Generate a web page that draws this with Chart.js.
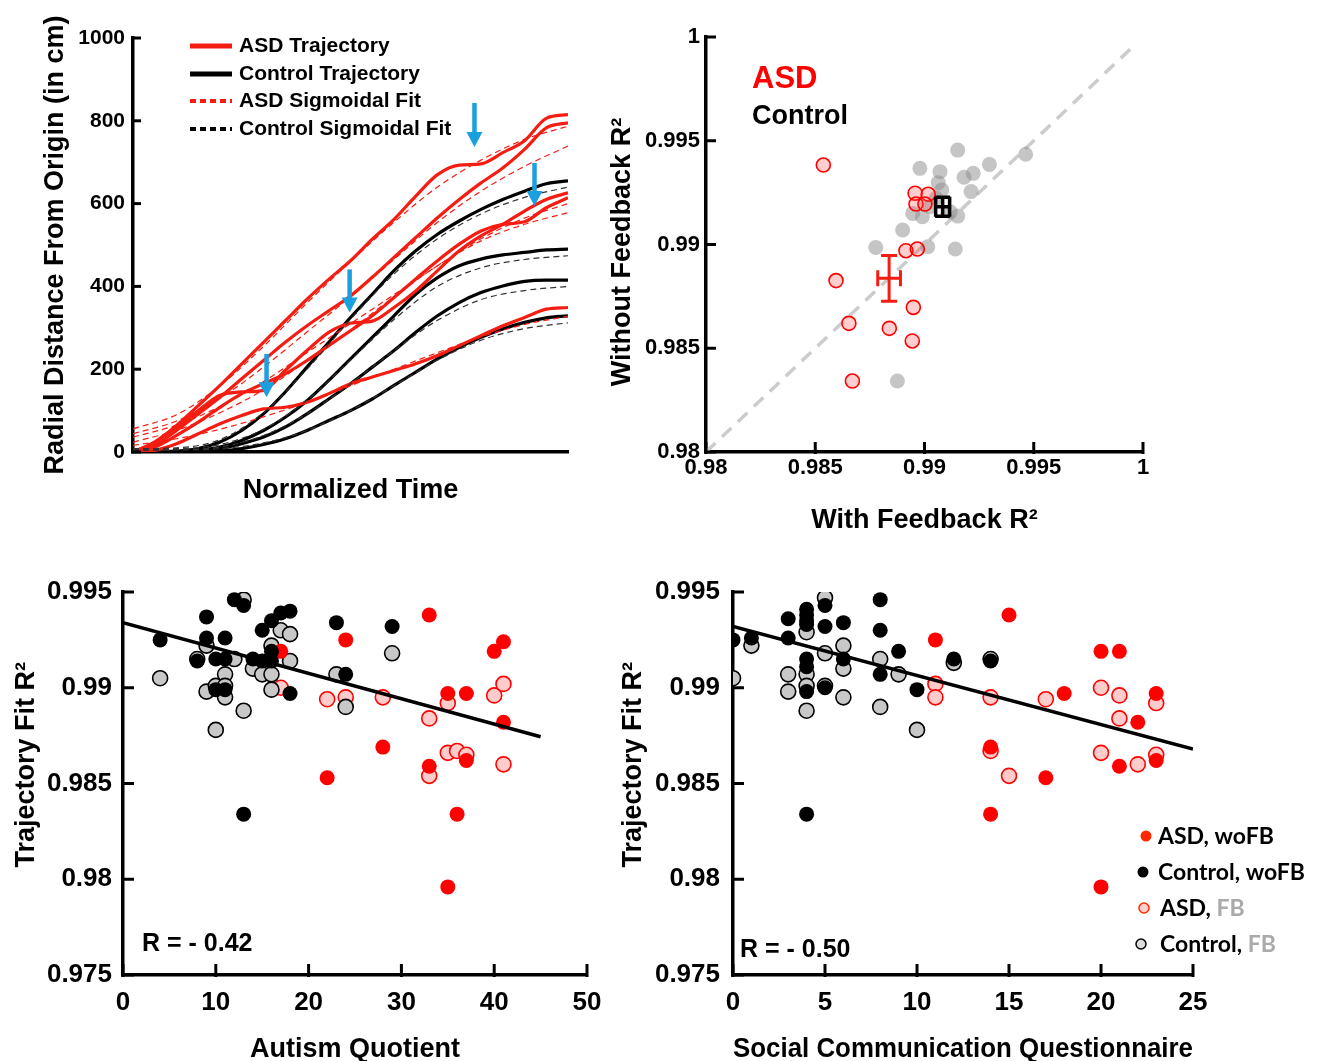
<!DOCTYPE html>
<html>
<head>
<meta charset="utf-8">
<script src="https://cdn.jsdelivr.net/npm/chart.js@4.4.1/dist/chart.umd.min.js"></script>
<style>
  body { margin: 0; background: #fff; }
  #wrap { position: relative; width: 1317px; height: 1061px; overflow: hidden; }
  #wrap canvas { position: absolute; }
</style>
</head>
<body>
<div id="wrap">
  <canvas id="trajChart" width="610" height="530" style="left:0;top:0"></canvas>
  <canvas id="fbChart" width="717" height="560" style="left:600px;top:0"></canvas>
  <canvas id="aqChart" width="620" height="501" style="left:0;top:560px"></canvas>
  <canvas id="scqChart" width="697" height="501" style="left:620px;top:560px"></canvas>
</div>
<script>
/* Trajectory figure: sample trajectories + R2 comparisons */

// --- panel A: trajectories (normalized time vs radial distance, cm)
var trajTime = [0, 0.05, 0.1, 0.15, 0.2, 0.25, 0.3, 0.35, 0.4, 0.45, 0.5, 0.55, 0.6, 0.65, 0.7, 0.75, 0.8, 0.85, 0.9, 0.95, 1];
var asdTraj1 = [0, 24, 64, 112, 161, 213, 265, 317, 369, 417, 462, 514, 562, 618, 670, 693, 696, 723, 752, 806, 815];
var asdTraj2 = [0, 16, 52, 92, 132, 177, 221, 265, 305, 341, 377, 422, 470, 518, 566, 610, 650, 686, 731, 783, 795];
var asdTraj3 = [0, 24, 60, 100, 137, 145, 149, 197, 245, 289, 311, 316, 349, 389, 438, 486, 522, 550, 582, 610, 626];
var asdTraj4 = [0, 12, 40, 72, 108, 141, 165, 189, 221, 257, 293, 329, 373, 418, 462, 502, 534, 550, 556, 590, 614];
var asdTraj5 = [0, 4, 20, 44, 68, 88, 104, 108, 120, 141, 165, 181, 197, 213, 233, 257, 281, 305, 325, 345, 349];
var ctlTraj1 = [0, 0, 2, 8, 24, 52, 92, 145, 205, 265, 325, 381, 438, 486, 526, 558, 586, 610, 630, 648, 655];
var ctlTraj2 = [0, 0, 1, 4, 12, 28, 52, 84, 124, 173, 225, 277, 329, 381, 421, 450, 466, 476, 482, 488, 490];
var ctlTraj3 = [0, 0, 0, 2, 8, 20, 36, 60, 92, 128, 165, 205, 245, 289, 329, 361, 385, 401, 412, 415, 415];
var ctlTraj4 = [0, 0, 0, 0, 2, 8, 18, 32, 52, 76, 100, 128, 161, 193, 225, 253, 277, 297, 313, 324, 329];

var fitTime = [0, 0.1, 0.2, 0.3, 0.4, 0.5, 0.6, 0.7, 0.8, 0.9, 1];
var asdFit1 = [56, 90, 160, 255, 360, 460, 555, 640, 705, 755, 787];
var asdFit2 = [44, 75, 130, 205, 290, 375, 465, 555, 630, 690, 739];
var asdFit3 = [36, 65, 110, 170, 240, 310, 380, 450, 515, 565, 600];
var asdFit4 = [24, 52, 95, 150, 220, 295, 375, 450, 510, 550, 578];
var asdFit5 = [16, 32, 55, 85, 120, 160, 200, 240, 278, 308, 328];
var ctlFit1 = [8, 10, 30, 95, 200, 320, 430, 515, 575, 615, 640];
var ctlFit2 = [6, 8, 18, 55, 125, 222, 320, 400, 445, 465, 474];
var ctlFit3 = [5, 6, 12, 40, 92, 165, 245, 318, 368, 390, 400];
var ctlFit4 = [4, 5, 8, 22, 52, 100, 160, 222, 270, 298, 312];
var distTicks = [0, 200, 400, 600, 800, 1000];
// arrows: [time, start value, tip value]
var arrowMarks = [[0.307, 237, 132], [0.498, 441, 337], [0.785, 843, 737], [0.923, 698, 594]];

// --- panel B: with vs without feedback R2
var asdWithFB    = [0.98537, 0.98957, 0.99017, 0.98961, 0.99002, 0.98915, 0.98967, 0.98595, 0.98949, 0.98654, 0.98839, 0.98944, 0.98670];
var asdWithoutFB = [0.99383, 0.99247, 0.99242, 0.99195, 0.99195, 0.98970, 0.98978, 0.98826, 0.98697, 0.98620, 0.98596, 0.98535, 0.98342];
var ctlWithFB    = [0.99152, 0.99463, 0.99297, 0.98979, 0.99071, 0.99223, 0.99181, 0.99063, 0.99079, 0.99213, 0.99053, 0.98946, 0.98990, 0.99152, 0.99117, 0.98900, 0.98777, 0.99015, 0.99141, 0.98876, 0.99025];
var ctlWithoutFB = [0.99455, 0.99435, 0.99386, 0.99367, 0.99351, 0.99343, 0.99324, 0.99298, 0.99263, 0.99255, 0.99223, 0.99150, 0.99134, 0.99137, 0.99158, 0.99070, 0.98986, 0.98989, 0.98978, 0.98342, 0.99182];
var asdMean = [0.98838, 0.98837], asdSem = [0.00052, 0.0011];
var ctlMean = [0.99083, 0.99182], ctlSem = [0.00032, 0.00046];
var diagLine = [0.98, 0.9996];
var fbTicks = [0.98, 0.985, 0.99, 0.995, 1];

// --- panels C/D: fit R2 vs questionnaire scores
var r2Ticks = [0.975, 0.98, 0.985, 0.99, 0.995];
var aqCtlWo  = [4, 9, 9, 8, 10, 11, 11, 10, 11, 12, 13, 14, 15, 15, 16, 16, 17, 18, 18, 23, 24, 13, 29, 16];
var r2CtlWoA = [0.9925, 0.9937, 0.9926, 0.9914, 0.9915, 0.9926, 0.9915, 0.9899, 0.9899, 0.9946, 0.9943, 0.9915, 0.9930, 0.9914, 0.9935, 0.9919, 0.9939, 0.9940, 0.9897, 0.9934, 0.9907, 0.9834, 0.9932, 0.9914];
var aqCtlFb  = [4, 8, 9, 9, 10, 10, 11, 11, 11, 12, 13, 13, 14, 15, 16, 16, 16, 17, 18, 18, 23, 24, 29];
var r2CtlFbA = [0.9905, 0.9915, 0.9922, 0.9898, 0.9901, 0.9878, 0.9907, 0.9895, 0.9901, 0.9915, 0.9946, 0.9888, 0.9910, 0.9907, 0.9922, 0.9907, 0.9899, 0.9930, 0.9928, 0.9914, 0.9907, 0.9890, 0.9918];
var aqAsdWo  = [17, 24, 22, 33, 41, 40, 35, 37, 41, 28, 33, 37, 36, 35];
var r2AsdWoA = [0.9919, 0.9925, 0.9853, 0.9938, 0.9924, 0.9919, 0.9897, 0.9897, 0.9882, 0.9869, 0.9859, 0.9862, 0.9834, 0.9796];
var aqAsdFb  = [17, 24, 22, 28, 33, 35, 40, 41, 35, 36, 37, 41, 33];
var r2AsdFbA = [0.9900, 0.9895, 0.9894, 0.9895, 0.9884, 0.9892, 0.9896, 0.9902, 0.9866, 0.9867, 0.9865, 0.9860, 0.9854];
var aqFitX = [0, 45], aqFitY = [0.9934, 0.98744];
var aqTicks = [0, 10, 20, 30, 40, 50];

var scqCtlWo  = [0, 1, 3, 3, 4, 4, 4, 4, 4, 4, 4, 4, 5, 5, 5, 6, 6, 8, 8, 8, 9, 10, 12, 14];
var r2CtlWoS  = [0.9925, 0.9926, 0.9936, 0.9926, 0.9941, 0.9938, 0.9935, 0.9933, 0.9915, 0.9911, 0.9898, 0.9834, 0.9943, 0.9932, 0.9900, 0.9934, 0.9915, 0.9946, 0.9930, 0.9907, 0.9919, 0.9899, 0.9915, 0.9914];
var scqCtlFb  = [0, 1, 3, 3, 4, 4, 4, 4, 5, 5, 5, 6, 6, 6, 8, 8, 9, 10, 12, 14];
var r2CtlFbS  = [0.9905, 0.9922, 0.9907, 0.9898, 0.9929, 0.9907, 0.9901, 0.9888, 0.9947, 0.9918, 0.9901, 0.9922, 0.9910, 0.9895, 0.9915, 0.9890, 0.9907, 0.9878, 0.9913, 0.9915];
var scqAsdWo  = [11, 15, 20, 21, 18, 23, 22, 14, 17, 21, 23, 14, 20];
var r2AsdWoS  = [0.9925, 0.9938, 0.9919, 0.9919, 0.9897, 0.9897, 0.9882, 0.9869, 0.9853, 0.9859, 0.9862, 0.9834, 0.9796];
var scqAsdFb  = [11, 11, 14, 17, 20, 21, 21, 23, 14, 20, 22, 23, 15];
var r2AsdFbS  = [0.9902, 0.9895, 0.9895, 0.9894, 0.9900, 0.9896, 0.9884, 0.9892, 0.9867, 0.9866, 0.9860, 0.9865, 0.9854];
var scqFitX = [0, 25], scqFitY = [0.9932, 0.9868];
var scqTicks = [0, 5, 10, 15, 20, 25];

var ARIAL = '"Liberation Sans", Arial, Helvetica, sans-serif';
var RED = 'rgb(245,28,18)';
Chart.defaults.color = '#000';
Chart.defaults.font.family = ARIAL;
Chart.defaults.font.weight = 'bold';

function pts(xs, ys) { return xs.map(function(x, i) { return { x: x, y: ys[i] }; }); }
function fixedTicks(arr) { return function(s) { s.ticks = arr.map(function(v) { return { value: v }; }); }; }
function fmt(v) { return String(+v.toFixed(4)); }

// inward tick marks
var inTicks = {
    id: 'inTicks',
    afterDraw: function(chart, args, o) {
        var ctx = chart.ctx, a = chart.chartArea, len = o.len || 10;
        ctx.save(); ctx.strokeStyle = '#000'; ctx.lineWidth = 3;
        if (o.y) chart.scales.y.ticks.forEach(function(t) {
            var p = chart.scales.y.getPixelForValue(t.value);
            ctx.beginPath(); ctx.moveTo(a.left - 2, p); ctx.lineTo(a.left + len, p); ctx.stroke();
        });
        if (o.x) chart.scales.x.ticks.forEach(function(t) {
            var p = chart.scales.x.getPixelForValue(t.value);
            ctx.beginPath(); ctx.moveTo(p, a.bottom + 2); ctx.lineTo(p, a.bottom - len); ctx.stroke();
        });
        ctx.restore();
    }
};

// free text, legend swatches
var notes = {
    id: 'notes',
    afterDraw: function(chart, args, o) {
        var ctx = chart.ctx;
        ctx.save();
        (o.swatches || []).forEach(function(s) {
            ctx.beginPath();
            if (s.line) {
                ctx.strokeStyle = s.color; ctx.lineWidth = s.width; ctx.setLineDash(s.dash || []);
                ctx.moveTo(s.x, s.y); ctx.lineTo(s.x + s.line, s.y); ctx.stroke(); ctx.setLineDash([]);
            } else {
                ctx.arc(s.x, s.y, s.r, 0, Math.PI * 2);
                ctx.fillStyle = s.fill; ctx.fill();
                if (s.stroke) { ctx.strokeStyle = s.stroke; ctx.lineWidth = 1.5; ctx.stroke(); }
            }
        });
        (o.items || []).forEach(function(it) {
            ctx.font = it.font; ctx.textBaseline = 'middle'; ctx.textAlign = 'left';
            var x = it.x;
            it.parts.forEach(function(p) {
                ctx.fillStyle = p[1]; ctx.fillText(p[0], x, it.y);
                x += ctx.measureText(p[0]).width;
            });
        });
        ctx.restore();
    }
};

var arrows = {
    id: 'arrows',
    afterDatasetsDraw: function(chart, args, o) {
        if (!o.list) return;
        var ctx = chart.ctx, sx = chart.scales.x, sy = chart.scales.y;
        ctx.save(); ctx.strokeStyle = ctx.fillStyle = o.color; ctx.lineWidth = 4.5;
        o.list.forEach(function(a) {
            var px = sx.getPixelForValue(a[0]), y0 = sy.getPixelForValue(a[1]), y1 = sy.getPixelForValue(a[2]);
            ctx.beginPath(); ctx.moveTo(px, y0); ctx.lineTo(px, y1 - 12); ctx.stroke();
            ctx.beginPath(); ctx.moveTo(px - 8, y1 - 15); ctx.lineTo(px + 8, y1 - 15); ctx.lineTo(px, y1); ctx.closePath(); ctx.fill();
        });
        ctx.restore();
    }
};

var errBars = {
    id: 'errBars',
    afterDatasetsDraw: function(chart, args, o) {
        var ctx = chart.ctx, sx = chart.scales.x, sy = chart.scales.y;
        (o.bars || []).forEach(function(b) {
            var cx = sx.getPixelForValue(b.m[0]), cy = sy.getPixelForValue(b.m[1]);
            var x0 = sx.getPixelForValue(b.m[0] - b.e[0]), x1 = sx.getPixelForValue(b.m[0] + b.e[0]);
            var y0 = sy.getPixelForValue(b.m[1] - b.e[1]), y1 = sy.getPixelForValue(b.m[1] + b.e[1]);
            ctx.save(); ctx.strokeStyle = b.color; ctx.lineWidth = b.width; ctx.beginPath();
            ctx.moveTo(x0, cy); ctx.lineTo(x1, cy);
            ctx.moveTo(x0, cy - b.capH); ctx.lineTo(x0, cy + b.capH);
            ctx.moveTo(x1, cy - b.capH); ctx.lineTo(x1, cy + b.capH);
            ctx.moveTo(cx, y0); ctx.lineTo(cx, y1);
            ctx.moveTo(cx - b.capV, y0); ctx.lineTo(cx + b.capV, y0);
            ctx.moveTo(cx - b.capV, y1); ctx.lineTo(cx + b.capV, y1);
            ctx.stroke(); ctx.restore();
        });
    }
};

function lineSet(xs, ys, color, width, dash) {
    return { data: pts(xs, ys), showLine: true, borderColor: color, borderWidth: width, borderDash: dash || [],
             pointRadius: 0, cubicInterpolationMode: 'monotone', fill: false };
}
function titleCfg(text, padTop, padBottom) {
    return { display: true, text: text, font: { family: ARIAL, size: 27, weight: 'bold', lineHeight: 1 }, padding: { top: padTop, bottom: padBottom } };
}
function baseOpts(pad) {
    return { responsive: false, animation: false, devicePixelRatio: 1, layout: { padding: pad, autoPadding: false } };
}
var border = { color: '#000', width: 3.5 };
var noGrid = { display: false, drawTicks: false };

// ---------- panel A
var trajSets = [
    lineSet(fitTime, asdFit1, RED, 1.2, [6, 4]), lineSet(fitTime, asdFit2, RED, 1.2, [6, 4]),
    lineSet(fitTime, asdFit3, RED, 1.2, [6, 4]), lineSet(fitTime, asdFit4, RED, 1.2, [6, 4]),
    lineSet(fitTime, asdFit5, RED, 1.2, [6, 4]),
    lineSet(fitTime, ctlFit1, '#333', 1.2, [6, 4]), lineSet(fitTime, ctlFit2, '#333', 1.2, [6, 4]),
    lineSet(fitTime, ctlFit3, '#333', 1.2, [6, 4]), lineSet(fitTime, ctlFit4, '#333', 1.2, [6, 4]),
    lineSet(trajTime, asdTraj1, RED, 3.2), lineSet(trajTime, asdTraj2, RED, 3.2), lineSet(trajTime, asdTraj3, RED, 3.2),
    lineSet(trajTime, asdTraj4, RED, 3.2), lineSet(trajTime, asdTraj5, RED, 3.2),
    lineSet(trajTime, ctlTraj1, '#000', 3.2), lineSet(trajTime, ctlTraj2, '#000', 3.2),
    lineSet(trajTime, ctlTraj3, '#000', 3.2), lineSet(trajTime, ctlTraj4, '#000', 3.2)
];
var optsA = baseOpts({ top: 38, right: 42, left: 0, bottom: 0 });
optsA.plugins = {
    legend: { display: false }, tooltip: { enabled: false },
    inTicks: { y: true, len: 8 },
    arrows: { list: arrowMarks, color: '#1a9fdf' },
    notes: {
        swatches: [
            { line: 42, x: 190, y: 46, color: RED, width: 5 },
            { line: 42, x: 190, y: 74, color: '#000', width: 5 },
            { line: 42, x: 190, y: 101, color: RED, width: 4, dash: [6, 4] },
            { line: 42, x: 190, y: 129, color: '#000', width: 4, dash: [6, 4] }
        ],
        items: [
            { x: 239, y: 46, font: 'bold 21px ' + ARIAL, parts: [['ASD Trajectory', '#000']] },
            { x: 239, y: 74, font: 'bold 21px ' + ARIAL, parts: [['Control Trajectory', '#000']] },
            { x: 239, y: 101, font: 'bold 21px ' + ARIAL, parts: [['ASD Sigmoidal Fit', '#000']] },
            { x: 239, y: 129, font: 'bold 21px ' + ARIAL, parts: [['Control Sigmoidal Fit', '#000']] }
        ]
    }
};
optsA.scales = {
    x: { type: 'linear', min: 0, max: 1, grid: noGrid, border: border, ticks: { display: false },
         title: titleCfg('Normalized Time', 0, 26), afterFit: function(s) { s.height = 78; } },
    y: { type: 'linear', min: 0, max: 1000, grid: noGrid, border: border, afterBuildTicks: fixedTicks(distTicks),
         ticks: { font: { size: 21, weight: 'bold' }, padding: 8, callback: fmt },
         title: titleCfg('Radial Distance From Origin (in cm)', 42.5, 0), afterFit: function(s) { s.width = 133; } }
};
new Chart(document.getElementById('trajChart'), { type: 'scatter', data: { datasets: trajSets }, options: optsA, plugins: [inTicks, arrows, notes] });

// ---------- panel B
var optsB = baseOpts({ top: 37, right: 174, left: 0, bottom: 0 });
optsB.plugins = {
    legend: { display: false }, tooltip: { enabled: false },
    inTicks: { x: true, y: true, len: 10 },
    errBars: { bars: [
        { m: asdMean, e: asdSem, color: RED, width: 3, capH: 8, capV: 8 },
        { m: ctlMean, e: ctlSem, color: '#000', width: 3.5, capH: 10, capV: 7.5 }
    ] },
    notes: { items: [
        { x: 152, y: 79, font: 'bold 31px ' + ARIAL, parts: [['ASD', '#ff0000']] },
        { x: 152, y: 117, font: 'bold 27px ' + ARIAL, parts: [['Control', '#000']] }
    ] }
};
optsB.scales = {
    x: { type: 'linear', min: 0.98, max: 1, grid: noGrid, border: border, afterBuildTicks: fixedTicks(fbTicks),
         ticks: { font: { size: 22, weight: 'bold' }, padding: 3, callback: fmt, maxRotation: 0 },
         title: titleCfg('With Feedback R²', 0, 26), afterFit: function(s) { s.height = 108; } },
    y: { type: 'linear', min: 0.98, max: 1, grid: noGrid, border: border, afterBuildTicks: fixedTicks(fbTicks),
         ticks: { font: { size: 22, weight: 'bold' }, padding: 6, callback: fmt },
         title: titleCfg('Without Feedback R²  ', 9, 0), afterFit: function(s) { s.width = 106; } }
};
new Chart(document.getElementById('fbChart'), {
    type: 'scatter',
    data: { datasets: [
        { data: pts(asdWithFB, asdWithoutFB), pointRadius: 7, backgroundColor: 'rgba(255,60,60,0.25)', borderColor: '#ff0000', borderWidth: 1.6 },
        { data: pts(ctlWithFB, ctlWithoutFB), pointRadius: 7.5, backgroundColor: 'rgba(140,140,140,0.5)', borderWidth: 0 },
        { data: pts(diagLine, diagLine), showLine: true, pointRadius: 0, borderColor: '#cccccc', borderWidth: 3.5, borderDash: [13, 9] }
    ] },
    options: optsB,
    plugins: [inTicks, errBars, notes]
});

// ---------- panels C and D
function groupSets(cw, yw, cf, yf, aw, ayw, af, ayf, fx, fy) {
    return [
        { data: pts(fx, fy), showLine: true, pointRadius: 0, borderColor: '#000', borderWidth: 3.5 },
        { data: pts(cw, yw), pointRadius: 7.5, backgroundColor: '#000', borderWidth: 0 },
        { data: pts(aw, ayw), pointRadius: 7.5, backgroundColor: '#ff0000', borderWidth: 0 },
        { data: pts(cf, yf), pointRadius: 7.5, backgroundColor: '#c8c8c8', borderColor: '#000', borderWidth: 1.6 },
        { data: pts(af, ayf), pointRadius: 7.5, backgroundColor: '#ffcccc', borderColor: '#ff0000', borderWidth: 1.6 }
    ];
}
function scoreOpts(pad, yWidth, yPad, yTitlePad, xTitle, xMax, xTicks, rText, rx, ry) {
    var o = baseOpts(pad);
    o.plugins = {
        legend: { display: false }, tooltip: { enabled: false },
        inTicks: { x: true, y: true, len: 11 },
        notes: { items: [{ x: rx, y: ry, font: 'bold 25px ' + ARIAL, parts: [[rText, '#000']] }] }
    };
    o.scales = {
        x: { type: 'linear', min: 0, max: xMax, grid: noGrid, border: border, afterBuildTicks: fixedTicks(xTicks),
             ticks: { font: { size: 26, weight: 'bold' }, padding: 12, callback: fmt, maxRotation: 0 },
             title: titleCfg(xTitle, 0, -2.5), afterFit: function(s) { s.height = 86; } },
        y: { type: 'linear', min: 0.975, max: 0.995, grid: noGrid, border: border, afterBuildTicks: fixedTicks(r2Ticks),
             ticks: { font: { size: 26, weight: 'bold' }, padding: yPad, callback: fmt },
             title: titleCfg('     Trajectory Fit R²', yTitlePad, 0), afterFit: function(s) { s.width = yWidth; } }
    };
    return o;
}

new Chart(document.getElementById('aqChart'), {
    type: 'scatter',
    data: { datasets: groupSets(aqCtlWo, r2CtlWoA, aqCtlFb, r2CtlFbA, aqAsdWo, r2AsdWoA, aqAsdFb, r2AsdFbA, aqFitX, aqFitY) },
    options: scoreOpts({ top: 32, right: 33, left: 0, bottom: 0 }, 123, 11, 13.5, 'Autism Quotient', 50, aqTicks, 'R = - 0.42', 142, 384),
    plugins: [inTicks, notes]
});

var optsD = scoreOpts({ top: 32, right: 124, left: 0, bottom: 0 }, 113, 13, 0, 'Social Communication Questionnaire', 25, scqTicks, 'R = - 0.50', 120, 390);
optsD.plugins.notes.swatches = [
    { x: 526, y: 276, r: 5.5, fill: '#ff2a00' },
    { x: 523, y: 312, r: 5.5, fill: '#000' },
    { x: 524, y: 348, r: 5, fill: '#ffd0d0', stroke: '#ff2a00' },
    { x: 521, y: 384, r: 5, fill: '#dddddd', stroke: '#000' }
];
optsD.plugins.notes.items = optsD.plugins.notes.items.concat([
    { x: 538, y: 277, font: 'bold 23px Lato, ' + ARIAL, parts: [['ASD, woFB', '#000']] },
    { x: 538, y: 313, font: 'bold 23px Lato, ' + ARIAL, parts: [['Control, woFB', '#000']] },
    { x: 540, y: 349, font: 'bold 23px Lato, ' + ARIAL, parts: [['ASD, ', '#000'], ['FB', '#aaaaaa']] },
    { x: 540, y: 385, font: 'bold 23px Lato, ' + ARIAL, parts: [['Control, ', '#000'], ['FB', '#aaaaaa']] }
]);
new Chart(document.getElementById('scqChart'), {
    type: 'scatter',
    data: { datasets: groupSets(scqCtlWo, r2CtlWoS, scqCtlFb, r2CtlFbS, scqAsdWo, r2AsdWoS, scqAsdFb, r2AsdFbS, scqFitX, scqFitY) },
    options: optsD,
    plugins: [inTicks, notes]
});
</script>
</body>
</html>
